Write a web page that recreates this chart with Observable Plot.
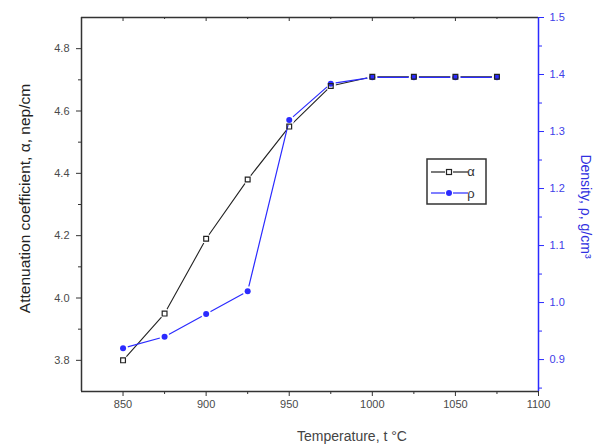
<!DOCTYPE html>
<html>
<head>
<meta charset="utf-8">
<script src="https://cdn.jsdelivr.net/npm/d3@7"></script>
<script src="https://cdn.jsdelivr.net/npm/@observablehq/plot@0.6"></script>
<style>
  html, body { margin: 0; padding: 0; background: #fff; }
  #chart { width: 605px; height: 447px; }
</style>
</head>
<body>
<div id="chart"></div>
<script>
// ---- data ----
const temps   = [850, 875, 900, 925, 950, 975, 1000, 1025, 1050, 1075];
const atten   = [3.80, 3.95, 4.19, 4.38, 4.55, 4.68, 4.71, 4.71, 4.71, 4.71];
const density = [0.92, 0.94, 0.98, 1.02, 1.32, 1.384, 1.395, 1.395, 1.395, 1.395];

const xMajor = [850, 900, 950, 1000, 1050, 1100];
const xMinor = [875, 925, 975, 1025, 1075];
const yMajor = [3.8, 4.0, 4.2, 4.4, 4.6, 4.8];
const yMinor = [3.9, 4.1, 4.3, 4.5, 4.7];
const rMajor = [0.9, 1.0, 1.1, 1.2, 1.3, 1.4, 1.5];
const rMinor = [0.85, 0.95, 1.05, 1.15, 1.25, 1.35, 1.45];

const xDomain = [825, 1100];
const yDomain = [3.7, 4.9];
const rDomain = [0.844, 1.5];

// map density onto the left scale (dual axis)
const toLeft = r => yDomain[0] + (r - rDomain[0]) * (yDomain[1] - yDomain[0]) / (rDomain[1] - rDomain[0]);
const fromLeft = v => rDomain[0] + (v - yDomain[0]) * (rDomain[1] - rDomain[0]) / (yDomain[1] - yDomain[0]);

const aData = temps.map((t, i) => ({t, v: atten[i]}));
const rData = temps.map((t, i) => ({t, v: toLeft(density[i])}));

const black = "#222";
const blue = "#2b2bff";
const tickCol = "#4a4a4a";

const chart = Plot.plot({
  width: 605,
  height: 447,
  marginLeft: 81,
  marginRight: 67,
  marginTop: 17,
  marginBottom: 56,
  style: {fontFamily: "Liberation Sans, Arial, sans-serif", fontSize: "11px", background: "#fff"},
  x: {domain: xDomain},
  y: {domain: yDomain},
  marks: [
    // bottom axis
    Plot.axisX({ticks: xMajor, tickSize: 5, tickPadding: 4, tickFormat: d3.format("d"), label: null, stroke: "#333", fill: tickCol}),
    Plot.axisX({ticks: xMinor, tickSize: 3, tickFormat: () => "", label: null, stroke: "#333"}),
    // top inward ticks
    Plot.ruleX(xMajor.filter(d => d < 1100), {x: d => d, y1: yDomain[1], y2: yDomain[1], insetBottom: -4, stroke: "#333"}),
    Plot.ruleX(xMinor, {x: d => d, y1: yDomain[1], y2: yDomain[1], insetBottom: -2, stroke: "#333"}),
    // left axis
    Plot.axisY({ticks: yMajor, tickSize: 5, tickPadding: 7, tickFormat: d3.format(".1f"), label: null, stroke: "#333", fill: tickCol}),
    Plot.axisY({ticks: yMinor, tickSize: 3, tickFormat: () => "", label: null, stroke: "#333"}),
    // right axis (density)
    Plot.axisY({anchor: "right", ticks: rMajor.map(toLeft), tickSize: 5, tickPadding: 6,
      tickFormat: d => fromLeft(d).toFixed(1), label: null, stroke: blue, fill: "#4040e8"}),
    Plot.axisY({anchor: "right", ticks: rMinor.map(toLeft), tickSize: 3, tickFormat: () => "", label: null, stroke: blue}),
    // frame
    Plot.ruleY([yDomain[1]], {stroke: "#333", strokeWidth: 1.5}),
    Plot.ruleY([yDomain[0]], {stroke: "#333", strokeWidth: 1.5}),
    Plot.ruleX([xDomain[0]], {stroke: "#333", strokeWidth: 1.5}),
    Plot.ruleX([xDomain[1]], {stroke: blue, strokeWidth: 1.5}),
    // attenuation line + gaps
    Plot.line(aData, {x: "t", y: "v", stroke: black, strokeWidth: 1.1}),
    Plot.dot(aData, {x: "t", y: "v", r: 5, fill: "white", stroke: null}),
    // density line + gaps
    Plot.line(rData, {x: "t", y: "v", stroke: blue, strokeWidth: 1.2}),
    Plot.dot(rData, {x: "t", y: "v", r: 5, fill: "white", stroke: null}),
    // markers
    Plot.dot(rData, {x: "t", y: "v", r: 3, fill: blue, stroke: null}),
    Plot.dot(aData, {x: "t", y: "v", symbol: "square", r: 2.7, fill: "none", stroke: black, strokeWidth: 1.2}),
    // axis titles
    Plot.text(["Attenuation coefficient, \u03B1, nep/cm"], {frameAnchor: "left", textAnchor: "middle", lineAnchor: "middle", dx: -56, dy: -6, rotate: -90, fontSize: 15.5, fill: "#222"}),
    Plot.text(["Density, \u03C1, g/cm\u00B3"], {frameAnchor: "right", textAnchor: "middle", lineAnchor: "middle", dx: 47, dy: 2, rotate: 90, fontSize: 14, fill: "#3030e0"}),
    Plot.text(["Temperature, t \u00B0C"], {frameAnchor: "bottom", textAnchor: "middle", lineAnchor: "middle", dx: 42, dy: 45, fontSize: 14, fill: "#444"})
  ]
});

// legend box
const svg = d3.select(chart);
const g = svg.append("g").attr("class", "legend");
g.append("rect").attr("x", 427).attr("y", 159).attr("width", 59).attr("height", 45)
  .attr("fill", "white").attr("stroke", "#333").attr("stroke-width", 1.5);
// row 1: alpha
g.append("line").attr("x1", 431).attr("x2", 445).attr("y1", 172).attr("y2", 172).attr("stroke", black).attr("stroke-width", 1.2);
g.append("line").attr("x1", 453).attr("x2", 468).attr("y1", 172).attr("y2", 172).attr("stroke", black).attr("stroke-width", 1.2);
g.append("rect").attr("x", 446.5).attr("y", 169.5).attr("width", 5).attr("height", 5).attr("fill", "none").attr("stroke", black).attr("stroke-width", 1.2);
g.append("text").attr("x", 471).attr("y", 176).attr("font-size", 13).attr("font-family", "Liberation Sans, Arial, sans-serif").attr("fill", "#333").text("\u03B1");
// row 2: rho
g.append("line").attr("x1", 431).attr("x2", 445).attr("y1", 193).attr("y2", 193).attr("stroke", blue).attr("stroke-width", 1.2);
g.append("line").attr("x1", 453).attr("x2", 468).attr("y1", 193).attr("y2", 193).attr("stroke", blue).attr("stroke-width", 1.2);
g.append("circle").attr("cx", 449).attr("cy", 193).attr("r", 3).attr("fill", blue);
g.append("text").attr("x", 471).attr("y", 198).attr("font-size", 13).attr("font-family", "Liberation Sans, Arial, sans-serif").attr("fill", "#333").text("\u03C1");

document.getElementById("chart").appendChild(chart);
</script>
</body>
</html>
